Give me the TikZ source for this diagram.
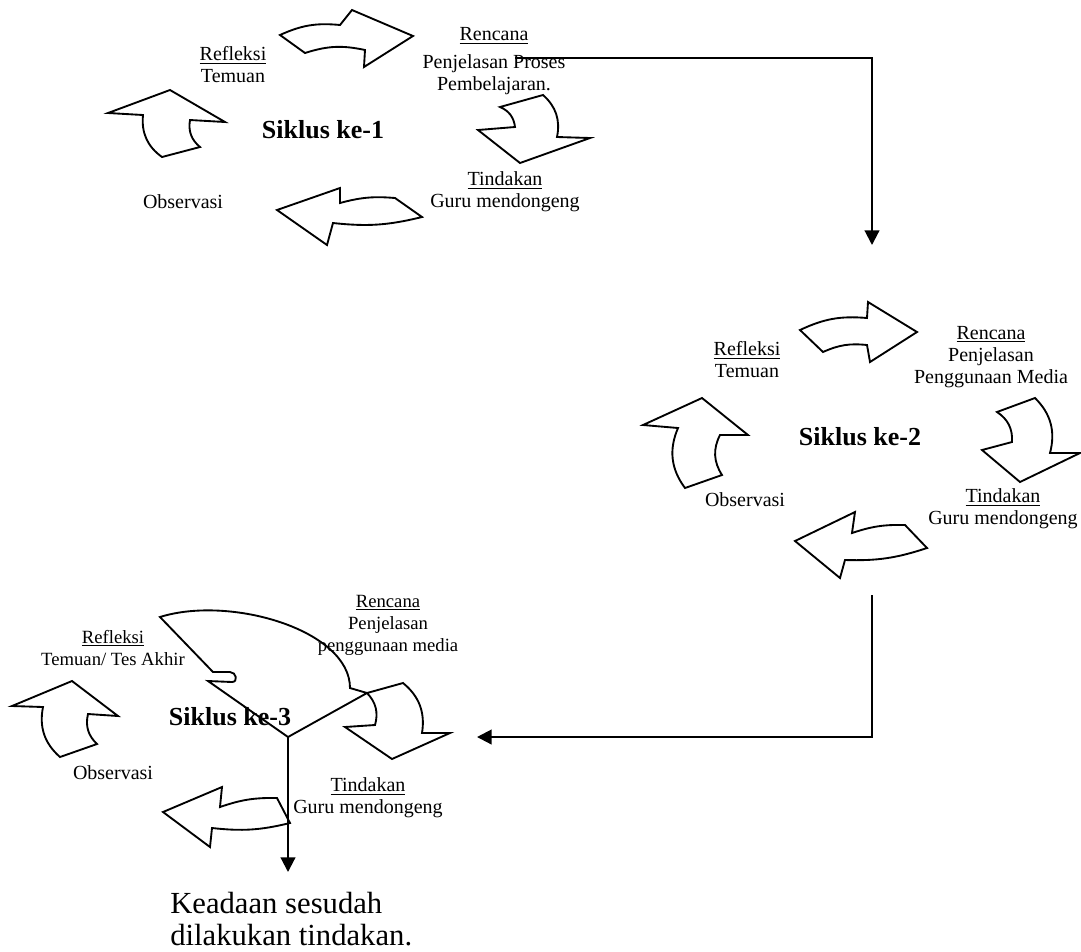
\documentclass[tikz,border=0pt]{standalone}
\usepackage{fontspec}
\setmainfont{Liberation Serif}
\usetikzlibrary{arrows.meta}

\begin{document}
\begin{tikzpicture}[x=0.75pt,y=-0.75pt,
    lbl/.style={align=center,font=\fontsize{15}{16.5}\selectfont},
    lblk/.style={align=center,font=\fontsize{14}{16.5}\selectfont},
    siklus/.style={font=\bfseries\fontsize{19.5}{22}\selectfont},
    blok/.style={draw,line width=1.4pt,line join=miter},
    flow/.style={line width=1.6pt,-{Triangle[width=11pt,length=11pt]}}]
\useasboundingbox (0,0) rectangle (1081,951);

% Siklus ke-1
\node[siklus] (sik1) at (323,130) {Siklus ke-1};
\node[lbl] (ref1) at (233,65) {\underline{Refleksi}\\Temuan};
\node[lbl] (ren1) at (494,61) {\underline{Rencana}\\[4pt]Penjelasan Proses\\Pembelajaran.};
\node[lbl] (tin1) at (505,192) {\underline{Tindakan}\\Guru mendongeng};
\node[lbl] (obs1) at (183,202) {Observasi};
\draw[blok] (280,35) to[bend left=15] (340,25) -- (352,10) -- (413,36) -- (364,67) -- (365,50) to[bend right=15] (305,53) -- cycle;
\draw[blok] (500,107) to[bend left=30] (515,127) -- (478,130) -- (520,163) -- (590,138) -- (557,137) to[bend right=30] (543,95) -- cycle;
\draw[blok] (170,90) -- (225,122) -- (190,120) to[bend right=30] (200,147) -- (162,157) to[bend left=30] (143,115) -- (108,113) -- cycle;
\draw[blok] (277,210) -- (340,188) -- (340,203) to[bend left=10] (395,198) -- (422,217) to[bend left=10] (333,223) -- (327,245) -- cycle;

% Siklus ke-2
\node[siklus] (sik2) at (860,437) {Siklus ke-2};
\node[lbl] (ref2) at (747,360) {\underline{Refleksi}\\Temuan};
\node[lbl] (ren2) at (991,357) {\underline{Rencana}\\Penjelasan\\Penggunaan Media};
\node[lbl] (tin2) at (1003,509) {\underline{Tindakan}\\Guru mendongeng};
\node[lbl] (obs2) at (745,500) {Observasi};
\draw[blok] (800,330) to[bend left=15] (867,318) -- (868,302) -- (917,332) -- (870,362) -- (867,345) to[bend right=15] (823,352) -- cycle;
\draw[blok] (997,412) to[bend left=30] (1012,442) -- (982,450) -- (1020,482) -- (1080,453) -- (1050,453) to[bend right=30] (1035,398) -- cycle;
\draw[blok] (702,398) -- (748,435) -- (720,435) to[bend right=30] (722,475) -- (685,488) to[bend left=30] (678,428) -- (643,425) -- cycle;
\draw[blok] (795,541) -- (855,512) -- (852,533) to[bend left=10] (905,525) -- (927,548) to[bend left=10] (845,560) -- (840,578) -- cycle;

% Siklus ke-3
\node[siklus] (sik3) at (230,717) {Siklus ke-3};
\node[lblk] (ref3) at (113,648) {\underline{Refleksi}\\Temuan/ Tes Akhir};
\node[lblk] (ren3) at (388,625) {\underline{Rencana}\\Penjelasan\\penggunaan media};
\node[lbl] (tin3) at (368,798) {\underline{Tindakan}\\Guru mendongeng};
\node[lbl] (obs3) at (113,773) {Observasi};
\coordinate (j3) at (288,737);
\draw[blok] (72,681) -- (118,716) -- (88,714) to[bend right=30] (97,744) -- (60,757) to[bend left=30] (43,707) -- (12,706) -- cycle;
\draw[blok] (367,693) to[bend left=30] (375,725) -- (345,727) -- (392,759) -- (450,733) -- (422,733) to[bend right=30] (403,683) -- cycle;
\draw[blok] (163,812) -- (222,787) -- (220,807) to[bend left=10] (277,798) -- (290,823) to[bend left=10] (212,828) -- (210,847) -- cycle;
\draw[blok] (160,617) .. controls (230,595) and (350,630) .. (350,688) -- (367,693) -- (j3) -- (208,681) -- (232,682)
    to[out=0,in=0,looseness=1.6] (230,672) -- (213,672) -- cycle;

% Keadaan akhir
\node[font=\fontsize{23}{24}\selectfont,align=left,anchor=north west,inner sep=0pt] (akhir) at (170,892)
    {Keadaan sesudah\\dilakukan tindakan.};

% Alur antar siklus
\coordinate (c1out) at (515,58);
\coordinate (c2in) at (872,245);
\coordinate (c2out) at (872,595);
\coordinate (c3in) at (477,737);
\draw[flow] (c1out) -| (c2in);
\draw[flow] (c2out) |- (c3in);
\draw[flow,shorten >=15pt] (j3) -- (j3 |- akhir.north);
\end{tikzpicture}
\end{document}
